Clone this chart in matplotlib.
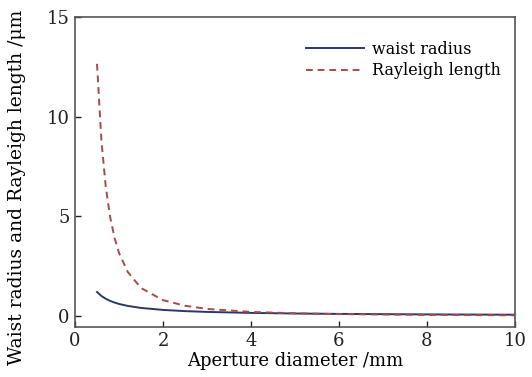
import numpy as np
from matplotlib import pyplot as plt

# values
aperture = [0.5, 0.6, 0.7, 0.8, 0.9, 1.0, 1.2, 1.5, 2.0, 2.5, 3.0, 4.0, 5.0, 6.0, 8.0, 10.0]
rayleigh = [12.65, 8.8, 6.45, 4.95, 3.9, 3.16, 2.2, 1.4, 0.79, 0.51, 0.35, 0.2, 0.13, 0.09, 0.05, 0.03]
waist = [1.2, 1.0, 0.86, 0.75, 0.67, 0.6, 0.5, 0.4, 0.3, 0.24, 0.2, 0.15, 0.12, 0.1, 0.075, 0.06]

x_ticks = [0, 2, 4, 6, 8, 10]
y_ticks = [0, 5, 10, 15]

plt.rcParams['font.family'] = ['DejaVu Serif']

fig = plt.figure(figsize=(5.32, 3.77), dpi=100)
ax = fig.add_axes([0.141, 0.133, 0.827, 0.822])

ax.plot(aperture, waist, color='#2b3768', linestyle='-', linewidth=1.4, label='waist radius')
ax.plot(aperture, rayleigh, color='#a84a4a', linestyle=(0, (3.5, 2.5)), linewidth=1.4, label='Rayleigh length')

ax.set_xlim(0, 10)
ax.set_ylim(-0.55, 15)
ax.set_xticks(x_ticks)
ax.set_yticks(y_ticks)
ax.tick_params(direction='in', length=4, width=1, labelsize=13, colors='#222222', pad=4)
for s in ax.spines.values():
    s.set_color('#555555')
    s.set_linewidth(1.2)

ax.set_xlabel('Aperture diameter /mm', fontsize=13, labelpad=1)
ax.set_ylabel('Waist radius and Rayleigh length /\u03bcm', fontsize=13.5)
ax.yaxis.set_label_coords(-0.112, 0.45)

ax.legend(loc='upper right', frameon=False, fontsize=11.5, handlelength=3.6,
          bbox_to_anchor=(1.0, 0.97), labelspacing=0.3, handletextpad=0.5)

fig.savefig('out.png', dpi=100)
